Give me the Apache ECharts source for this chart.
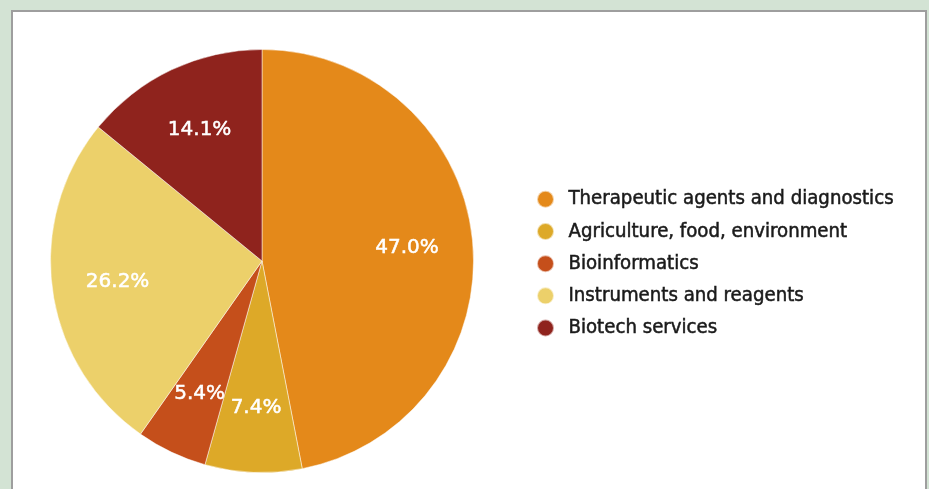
<!DOCTYPE html>
<html>
<head>
    <meta http-equiv="Content-Type" content="text/html; charset=utf-8">
    <title>Biotech sectors</title>
    <script src="https://cdn.jsdelivr.net/npm/echarts@6/dist/echarts.min.js"></script>
    <style>
        html, body {margin:0; padding:0; background:#d3e3d4;}
    </style>
</head>
<body>
    <div id="main" style="width: 929px;height:489px;"></div>
    <script type="text/javascript">
        var categories = ['Therapeutic agents and diagnostics', 'Agriculture, food, environment',
                          'Bioinformatics', 'Instruments and reagents', 'Biotech services'];
        var shares = [47.0, 7.4, 5.4, 26.2, 14.1];
        var colors = ['#e4891a', '#dda928', '#c54f1b', '#ecd06a', '#8f231d'];

        var myChart = echarts.init(document.getElementById('main'));

        var pieData = categories.map(function (c, i) {
            return {name: c, value: shares[i], itemStyle: {color: colors[i]}};
        });
        // second, invisible ring only used to place the labels further out
        var labelData = shares.map(function (v) {
            return {value: v};
        });

        var option = {
            animation: false,
            backgroundColor: '#d3e3d4',
            graphic: [{
                type: 'rect',
                z: -10,
                shape: {x: 12, y: 11, width: 914, height: 500},
                style: {fill: '#ffffff', stroke: '#9e9e9e', lineWidth: 2}
            }],
            legend: {
                orient: 'vertical',
                left: 531,
                top: 184,
                icon: 'circle',
                itemWidth: 36,
                itemHeight: 17,
                itemGap: 11.7,
                data: categories,
                textStyle: {
                    fontFamily: 'DejaVu Sans Condensed',
                    fontSize: 20.2,
                    lineHeight: 20,
                    color: '#1a1a1a',
                    textBorderColor: '#1a1a1a',
                    textBorderWidth: 0.5
                }
            },
            series: [{
                type: 'pie',
                center: [262, 261],
                radius: [0, 211.5],
                startAngle: 90,
                clockwise: true,
                label: {show: false},
                labelLine: {show: false},
                itemStyle: {borderColor: 'rgba(255,255,255,0.6)', borderWidth: 0.8},
                emphasis: {disabled: true},
                data: pieData
            }, {
                type: 'pie',
                center: [262, 262],
                radius: [74, 211.5],
                startAngle: 90,
                clockwise: true,
                silent: true,
                itemStyle: {color: 'rgba(0,0,0,0)'},
                label: {
                    show: true,
                    position: 'inside',
                    color: '#ffffff',
                    fontFamily: 'DejaVu Sans',
                    fontSize: 20,
                    textBorderColor: '#ffffff',
                    textBorderWidth: 0.5,
                    formatter: function (p) { return p.value.toFixed(1) + '%'; }
                },
                labelLine: {show: false},
                emphasis: {disabled: true},
                data: labelData
            }]
        };

        myChart.setOption(option);
    </script>
</body>
</html>
